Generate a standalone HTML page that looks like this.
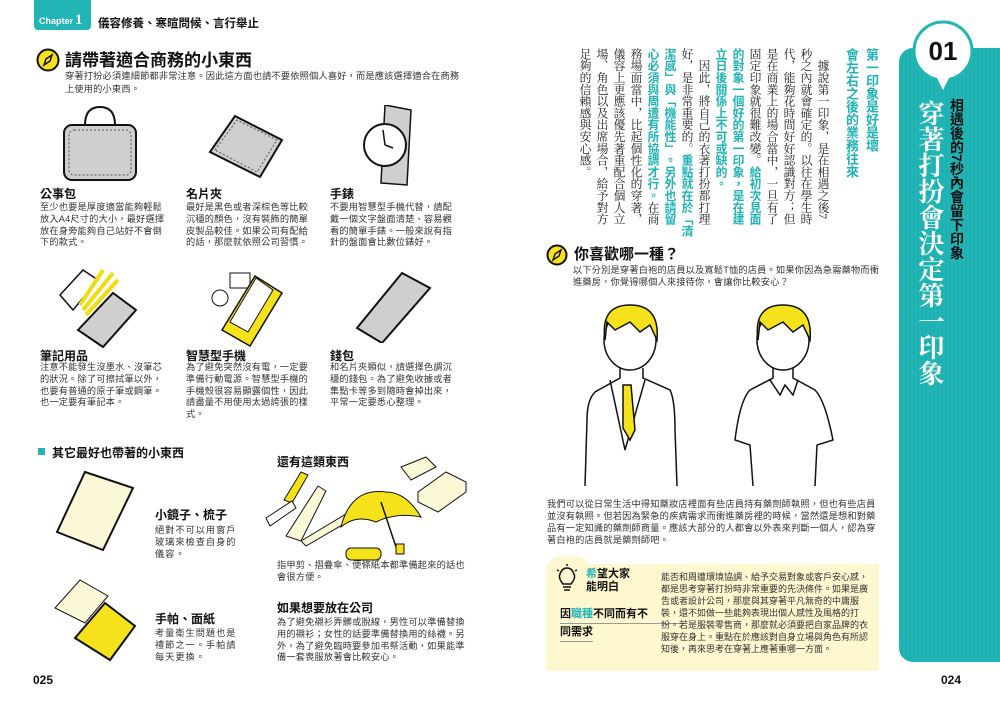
<!DOCTYPE html>
<html><head><meta charset="utf-8">
<style>
*{margin:0;padding:0;box-sizing:border-box}
body{width:1000px;height:710px;background:#fff;position:relative;overflow:hidden;font-family:"Liberation Sans","Noto Sans CJK TC",sans-serif;color:#222}
.a{position:absolute}
.t{font-size:9.2px;line-height:11.8px;color:#333;letter-spacing:0.2px}
.h{font-weight:bold;font-size:12px;color:#111}
.teal{color:#1fb3b5}
svg{position:absolute}
.v{position:absolute;writing-mode:vertical-rl;font-family:"Liberation Serif","Noto Serif CJK SC",serif;white-space:nowrap}
</style></head><body>

<div class="a" style="left:34px;top:0;width:57px;height:30px;background:#22b5b6;border-radius:0 0 4px 4px;color:#fff;font-weight:bold;font-size:9px;padding:12px 0 0 5px">Chapter<span style="font-family:'Liberation Serif',serif;font-size:15px;margin-left:2px">1</span></div>
<div class="a h" style="left:98px;top:15px;font-size:11.5px">儀容修養、寒暄問候、言行舉止</div>

<svg style="left:36px;top:48px" width="24" height="24"><circle cx="12" cy="12" r="10.5" fill="#f5e21a" stroke="#111" stroke-width="2"/><path d="M16 7 L10 11 L8 17 L14 13Z" fill="none" stroke="#111" stroke-width="1.5"/></svg>
<div class="a" style="left:65px;top:46px;font-size:17px;font-weight:bold;color:#111">請帶著適合商務的小東西</div>
<div class="a t" style="left:65px;top:70px;width:400px;line-height:12.5px">穿著打扮必須連細節都非常注意。因此這方面也請不要依照個人喜好，而是應該選擇適合在商務上使用的小東西。</div>

<svg style="left:60px;top:105px" width="80" height="80"><path d="M25 20 Q25 2 40 2 Q55 2 55 20" fill="none" stroke="#111" stroke-width="2"/><rect x="4" y="20" width="72" height="55" rx="8" fill="#cfcfcf" stroke="#111" stroke-width="2"/><rect x="9" y="25" width="62" height="45" rx="5" fill="none" stroke="#555" stroke-dasharray="2 2"/></svg>
<svg style="left:205px;top:112px" width="80" height="70"><path d="M5 40 L30 4 L77 28 L55 65Z" fill="#cfcfcf" stroke="#111" stroke-width="2"/><path d="M10 38 L32 8 L72 28 L52 60Z" fill="none" stroke="#555" stroke-dasharray="2 2"/></svg>
<svg style="left:363px;top:105px" width="52" height="82"><path d="M22 0 L48 5 L44 80 L18 78Z" fill="#cfcfcf" stroke="#111" stroke-width="1.5"/><circle cx="22" cy="40" r="21" fill="#fff" stroke="#111" stroke-width="2"/><path d="M22 40 L20 25 M22 40 L30 43" stroke="#111" stroke-width="1.5"/></svg>

<div class="a h" style="left:40px;top:185px">公事包</div>
<div class="a t" style="left:40px;top:202px;width:128px">至少也要是厚度適當能夠輕鬆放入A4尺寸的大小，最好選擇放在身旁能夠自己站好不會倒下的款式。</div>
<div class="a h" style="left:186px;top:185px">名片夾</div>
<div class="a t" style="left:186px;top:202px;width:125px">最好是黑色或者深棕色等比較沉穩的顏色，沒有裝飾的簡單皮製品較佳。如果公司有配給的話，那麼就依照公司習慣。</div>
<div class="a h" style="left:330px;top:185px">手錶</div>
<div class="a t" style="left:330px;top:202px;width:125px">不要用智慧型手機代替，請配戴一個文字盤面清楚、容易觀看的簡單手錶。一般來說有指針的盤面會比數位錶好。</div>

<svg style="left:58px;top:265px" width="85" height="85"><path d="M2 30 L25 5 L40 15 L15 45Z" fill="#fff" stroke="#111" stroke-width="1.5"/><path d="M20 65 L55 28 L78 45 L45 82Z" fill="#cfcfcf" stroke="#111" stroke-width="2"/><path d="M25 45 L55 8 M28 50 L60 15 M22 40 L45 5" stroke="#f0dc10" stroke-width="4"/></svg>
<svg style="left:210px;top:268px" width="75" height="80"><circle cx="10" cy="30" r="8" fill="none" stroke="#111"/><rect x="20" y="5" width="20" height="15" fill="#fff" stroke="#111"/><path d="M12 72 L45 18 L72 35 L40 88Z" fill="#f5e21a" stroke="#111" stroke-width="1.5" transform="translate(0,-10)"/><path d="M20 60 L46 16 L63 28 L38 70Z" fill="#fff" stroke="#111" transform="translate(0,-6)"/></svg>
<svg style="left:352px;top:268px" width="80" height="75"><path d="M5 60 L50 5 L78 20 L30 75Z" fill="#cfcfcf" stroke="#111" stroke-width="2"/></svg>

<div class="a h" style="left:40px;top:347px">筆記用品</div>
<div class="a t" style="left:40px;top:362px;width:128px">注意不能發生沒墨水、沒筆芯的狀況。除了可擦拭筆以外，也要有普通的原子筆或鋼筆。也一定要有筆記本。</div>
<div class="a h" style="left:186px;top:347px">智慧型手機</div>
<div class="a t" style="left:186px;top:362px;width:125px">為了避免突然沒有電，一定要準備行動電源。智慧型手機的手機殼很容易顯露個性，因此請盡量不用使用太過誇張的樣式。</div>
<div class="a h" style="left:330px;top:347px">錢包</div>
<div class="a t" style="left:330px;top:362px;width:125px">和名片夾類似，請選擇色調沉穩的錢包。為了避免收據或者集點卡等多到隨時會掉出來，平常一定要悉心整理。</div>

<div class="a" style="left:38px;top:448px;width:7px;height:7px;background:#22b5b6"></div>
<div class="a h" style="left:52px;top:444px">其它最好也帶著的小東西</div>
<svg style="left:55px;top:470px" width="80" height="82"><path d="M30 2 L78 18 L48 80 L2 62Z" fill="#fbf8d8" stroke="#111" stroke-width="2"/></svg>
<svg style="left:50px;top:578px" width="90" height="85"><path d="M5 30 L30 2 L58 18 L35 45Z" fill="#fbf8d8" stroke="#111"/><path d="M25 60 L55 25 L85 48 L60 82Z" fill="#f5e21a" stroke="#111" stroke-width="2"/></svg>
<div class="a h" style="left:155px;top:506px">小鏡子、梳子</div>
<div class="a t" style="left:155px;top:525px;width:88px;letter-spacing:1px">絕對不可以用窗戶玻璃來檢查自身的儀容。</div>
<div class="a h" style="left:155px;top:610px">手帕、面紙</div>
<div class="a t" style="left:155px;top:628px;width:88px;letter-spacing:1px">考量衛生問題也是禮節之一。手帕請每天更換。</div>

<svg style="left:256px;top:452px" width="215" height="112"><path d="M28 48 L45 20 L52 23 L36 51Z" fill="#f5e21a" stroke="#111"/><path d="M10 66 L36 49 L40 56 L14 74Z" fill="#fff" stroke="#111"/><path d="M30 84 L62 34 L70 39 L45 89Z" fill="#fbf8d8" stroke="#111"/><path d="M45 89 L95 59 L98 66 L50 94Z" fill="#fbf8d8" stroke="#111"/><path d="M85 75 Q95 35 130 40 Q150 40 165 65 Q140 60 120 70 Q100 62 85 75Z" fill="#f5e21a" stroke="#111"/><path d="M125 50 L140 95" stroke="#111" stroke-width="1.5"/><rect x="140" y="92" width="8" height="10" fill="#f5e21a" stroke="#111"/><rect x="90" y="96" width="35" height="12" rx="5" fill="#f5e21a" stroke="#111"/><path d="M145 15 L170 5 L180 15 L155 28Z" fill="#fbf8d8" stroke="#111"/><path d="M162 40 L190 20 L210 30 L210 40 L182 60 L162 50Z" fill="#fbf8d8" stroke="#111"/></svg>
<div class="a h" style="left:277px;top:453px;background:#fff">還有這類東西</div>
<div class="a t" style="left:277px;top:560px;width:195px">指甲剪、摺疊傘、便條紙本都準備起來的話也會很方便。</div>
<div class="a h" style="left:277px;top:599px">如果想要放在公司</div>
<div class="a t" style="left:277px;top:617px;width:195px">為了避免襯衫弄髒或脫線，男性可以準備替換用的襯衫；女性的話要準備替換用的絲襪。另外，為了避免臨時要參加弔祭活動，如果能準備一套喪服放著會比較安心。</div>
<div class="a" style="left:33px;top:673px;font-size:12px;font-weight:bold;color:#111">025</div>

<div class="a" style="left:899px;top:48px;width:101px;height:614px;background:repeating-linear-gradient(90deg,#22b5b6 0 2px,#1fb0b1 2px 4px);border-radius:14px 0 0 14px"></div>
<svg style="left:910px;top:18px" width="66" height="74"><circle cx="33" cy="33" r="29" fill="#fff" stroke="#22b5b6" stroke-width="3"/><path d="M27 60 L33 72 L39 60Z" fill="#fff"/></svg>
<div class="a" style="left:920px;top:36px;width:46px;text-align:center;font-size:26px;font-weight:bold;color:#111;line-height:30px">01</div>
<div class="v" style="left:912px;top:100px;font-size:26px;line-height:34px;font-weight:bold;color:#fff">穿著打扮會決定第一印象</div>
<div class="v" style="left:947px;top:98px;font-family:'Liberation Sans','Noto Sans CJK TC',sans-serif;font-size:14px;line-height:20px;font-weight:bold;color:#111">相遇後的7秒內會留下印象</div>

<div class="v" style="left:841px;top:48px;width:40px;height:185px;font-family:'Liberation Sans','Noto Sans CJK TC',sans-serif;font-size:13px;line-height:20px;font-weight:bold;color:#1fb3b5">第一印象是好是壞<br>會左右之後的業務往來</div>
<div class="v" style="left:575px;top:48px;width:256px;height:185px;font-size:11.8px;line-height:17px;color:#222">　據說第一印象，是在相遇之後7<br>秒之內就會確定的。以往在學生時<br>代，能夠花時間好好認識對方；但<br>是在商業上的場合當中，一旦有了<br>固定印象就很難改變。<span class="teal" style="font-weight:bold;font-family:'Liberation Sans','Noto Sans CJK TC',sans-serif">給初次見面</span><br><span class="teal" style="font-weight:bold;font-family:'Liberation Sans','Noto Sans CJK TC',sans-serif">的對象一個好的第一印象，是在建<br>立日後關係上不可或缺的。</span><br>　因此，將自己的衣著打扮都打理<br>好，是非常重要的。<span class="teal" style="font-weight:bold;font-family:'Liberation Sans','Noto Sans CJK TC',sans-serif">重點就在於「清<br>潔感」與「機能性」。另外也請留<br>心必須與周遭有所協調才行。</span>在商<br>務場面當中，比起個性化的穿著，<br>儀容上更應該優先著重配合個人立<br>場、角色以及出席場合，給予對方<br>足夠的信賴感與安心感。</div>

<svg style="left:546px;top:244px" width="22" height="22"><circle cx="11" cy="11" r="9.5" fill="#f5e21a" stroke="#111" stroke-width="2"/><path d="M15 6 L9 10 L7 16 L13 12Z" fill="none" stroke="#111" stroke-width="1.4"/></svg>
<div class="a" style="left:574px;top:243px;font-size:15px;font-weight:bold;color:#111">你喜歡哪一種？</div>
<div class="a t" style="left:573px;top:265px;width:308px">以下分別是穿著白袍的店員以及寬鬆T恤的店員。如果你因為急需藥物而衝進藥房，你覺得哪個人來接待你，會讓你比較安心？</div>

<svg style="left:575px;top:300px" width="290" height="186" fill="none" stroke="#111" stroke-width="1.5">
<ellipse cx="55" cy="40" rx="26" ry="30" fill="#fff"/>
<path d="M30 40 Q25 5 55 5 Q85 5 82 40 L75 25 L65 32 L55 22 L40 30 L32 22Z" fill="#f5e21a"/>
<path d="M45 68 L45 78 L20 92 Q12 100 12 120 L10 186 M68 68 L68 78 L95 90 Q100 100 100 130 L102 186"/>
<path d="M35 80 L50 150 L70 80"/>
<path d="M48 85 L56 85 L60 130 L55 140 L48 128Z" fill="#f5e21a"/>
<ellipse cx="208" cy="40" rx="26" ry="30" fill="#fff"/>
<path d="M183 40 Q178 5 208 5 Q238 5 235 40 L228 25 L218 32 L208 22 L193 30 L185 22Z" fill="#f5e21a"/>
<path d="M198 68 L198 78 L175 90 Q165 100 160 140 L175 145 L178 186 M218 68 L218 78 L240 90 Q250 100 258 140 L242 145 L240 186 M195 80 L205 95 L210 85 L218 95 L223 80"/>
</svg>

<div class="a t" style="left:547px;top:498px;width:334px;line-height:12px">我們可以從日常生活中得知藥妝店裡面有些店員持有藥劑師執照，但也有些店員並沒有執照。但若因為緊急的疾病需求而衝進藥房裡的時候，當然還是想和對藥品有一定知識的藥劑師商量。應該大部分的人都會以外表來判斷一個人，認為穿著白袍的店員就是藥劑師吧。</div>

<div class="a" style="left:546px;top:564px;width:333px;height:107px;background:#fdf8cf"></div>
<div class="a" style="left:546px;top:556px;width:45px;height:20px;background:#fdf8cf;border-radius:16px 16px 0 0"></div>
<svg style="left:555px;top:564px" width="24" height="28" fill="none" stroke="#111" stroke-width="1.5"><path d="M8 20 Q3 14 5 10 Q7 4 12 4 Q17 4 19 10 Q21 14 16 20Z"/><path d="M8 23 L16 23 M9 26 L15 26"/><path d="M12 0 L12 2 M2 6 L4 7 M22 6 L20 7" /></svg>
<div class="a" style="left:586px;top:568px;font-size:11px;line-height:13px;font-weight:bold;color:#111"><span class="teal">希</span>望大家<br>能明白</div>
<div class="a" style="left:560px;top:606px;font-size:11px;line-height:17px;font-weight:bold;color:#111;white-space:nowrap">
<div style="border-bottom:1px solid #999;width:125px">因<span class="teal">職種</span>不同而有不</div>
<div style="border-bottom:1px solid #999;width:33px">同需求</div></div>
<div class="a t" style="left:661px;top:571px;width:214px;line-height:12px;font-size:9px;letter-spacing:0">能否和周遭環境協調、給予交易對象或客戶安心感，都是思考穿著打扮時非常重要的先決條件。如果是廣告或者設計公司，那麼與其穿著平凡無奇的中庸服裝，還不如做一些能夠表現出個人感性及風格的打扮。若是服裝零售商，那麼就必須要把自家品牌的衣服穿在身上。重點在於應該對自身立場與角色有所認知後，再來思考在穿著上應著重哪一方面。</div>

<div class="a" style="left:941px;top:673px;font-size:12px;font-weight:bold;color:#111">024</div>
</body></html>
